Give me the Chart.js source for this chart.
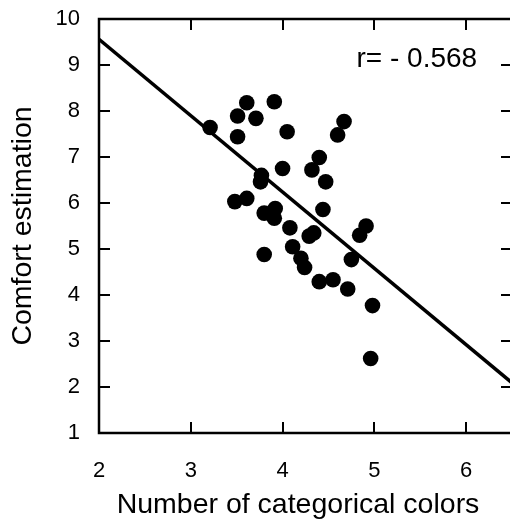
<!DOCTYPE html>
<html>
<head>
<meta charset="utf-8">
<script src="https://cdn.jsdelivr.net/npm/chart.js@4"></script>
<style>
html,body{margin:0;padding:0;background:#fff;overflow:hidden;}
#wrap{width:514px;height:525px;}
</style>
</head>
<body>
<div id="wrap"><canvas id="c" width="514" height="525" style="width:514px;height:525px"></canvas></div>
<script>
// Data
const colorsCount = [3.21,3.51,3.61,3.51,3.71,3.91,4.05,4.60,4.67,4.40,4.32,4.47,4.00,3.77,3.76,3.48,3.61,3.80,3.92,3.91,4.08,4.29,4.34,4.44,4.84,4.91,4.11,4.20,4.24,3.80,4.40,4.55,4.71,4.75,4.98,4.96];
const comfort     = [7.64,7.89,8.18,7.44,7.84,8.20,7.55,7.48,7.77,6.99,6.72,6.46,6.75,6.60,6.46,6.03,6.10,5.78,5.88,5.67,5.46,5.28,5.35,5.86,5.30,5.50,5.05,4.80,4.60,4.88,4.29,4.33,4.13,4.77,3.77,2.62];
const fitX = [2, 6.5];
const fitY = [9.56, 2.09];
const xTicks = [2,3,4,5,6];
const yTicks = [1,2,3,4,5,6,7,8,9,10];
const annotationText = 'r= - 0.568';
const annotationAt = [6.12, 9.13];
const xTitle = 'Number of categorical colors';
const yTitle = 'Comfort estimation';

const FONT = '"Liberation Sans", Arial, Helvetica, sans-serif';

const framePlugin = {
  id: 'frame',
  afterDraw(chart) {
    const ctx = chart.ctx;
    const a = chart.chartArea;
    const xs = chart.scales.x, ys = chart.scales.y;
    ctx.save();
    ctx.strokeStyle = '#000000';
    ctx.fillStyle = '#000000';
    ctx.lineWidth = 2.5;
    ctx.beginPath();
    ctx.rect(a.left, a.top, a.right - a.left, a.bottom - a.top);
    ctx.stroke();
    // inward ticks
    const tl = 11;
    ctx.lineWidth = 2;
    ctx.beginPath();
    for (const v of xTicks) {
      if (v === 2) continue;
      const px = Math.round(xs.getPixelForValue(v));
      ctx.moveTo(px, a.bottom); ctx.lineTo(px, a.bottom - tl);
      ctx.moveTo(px, a.top); ctx.lineTo(px, a.top + tl);
    }
    for (const v of yTicks) {
      if (v === 1 || v === 10) continue;
      const py = Math.round(ys.getPixelForValue(v));
      ctx.moveTo(a.left, py); ctx.lineTo(a.left + tl, py);
      ctx.moveTo(a.right, py); ctx.lineTo(a.right - tl, py);
    }
    ctx.stroke();
    // correlation annotation
    ctx.font = '28px ' + FONT;
    ctx.textAlign = 'right';
    ctx.textBaseline = 'middle';
    ctx.fillText(annotationText, xs.getPixelForValue(annotationAt[0]), ys.getPixelForValue(annotationAt[1]));
    // x axis title
    ctx.font = '28.5px ' + FONT;
    ctx.textAlign = 'center';
    ctx.textBaseline = 'alphabetic';
    ctx.fillText(xTitle, a.left + 199, a.bottom + 80);
    ctx.restore();
  }
};

function zeroPad(s) { s.paddingTop = 0; s.paddingBottom = 0; s.paddingLeft = 0; s.paddingRight = 0; }

new Chart(document.getElementById('c'), {
  type: 'scatter',
  data: {
    datasets: [
      {
        data: colorsCount.map((v, i) => ({x: v, y: comfort[i]})),
        backgroundColor: '#000',
        borderWidth: 0,
        pointRadius: 7.8,
        pointHoverRadius: 7.8
      },
      {
        type: 'line',
        data: fitX.map((v, i) => ({x: v, y: fitY[i]})),
        borderColor: '#000',
        borderWidth: 3.5,
        pointRadius: 0,
        fill: false,
        tension: 0
      }
    ]
  },
  options: {
    responsive: false,
    devicePixelRatio: 1,
    animation: false,
    events: [],
    layout: {autoPadding: false, padding: {top: 19, right: 2, bottom: 0, left: 0}},
    plugins: {legend: {display: false}, tooltip: {enabled: false}},
    scales: {
      x: {
        type: 'linear',
        min: 2, max: 6.5,
        afterBuildTicks(s) { s.ticks = xTicks.map(v => ({value: v})); },
        afterFit(s) { s.height = 92; zeroPad(s); },
        grid: {display: false, drawTicks: false},
        border: {display: false},
        ticks: {color: '#000', font: {family: FONT, size: 22}, padding: 25, maxRotation: 0},
        title: {display: false}
      },
      y: {
        type: 'linear',
        min: 1, max: 10,
        afterBuildTicks(s) { s.ticks = yTicks.map(v => ({value: v})); },
        afterFit(s) { s.width = 99; zeroPad(s); },
        grid: {display: false, drawTicks: false},
        border: {display: false},
        ticks: {color: '#000', font: {family: FONT, size: 22}, padding: 19},
        title: {display: true, text: yTitle, color: '#000', font: {family: FONT, size: 28.5}, padding: {top: 6, bottom: 0}}
      }
    }
  },
  plugins: [framePlugin]
});
</script>
</body>
</html>
